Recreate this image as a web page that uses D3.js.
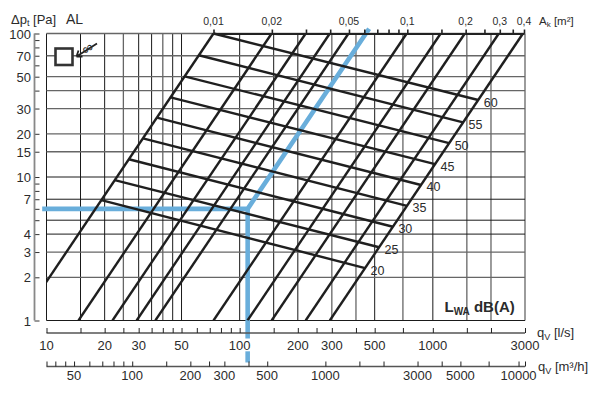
<!DOCTYPE html>
<html>
<head>
<meta charset="utf-8">
<style>
    html, body { margin: 0; padding: 0; background: #fff; }
    svg { display: block; }
    text { font-family: 'Liberation Sans', Arial, sans-serif; fill: #2b2b2b; }
</style>
</head>
<body>
<svg></svg>
<script src="https://cdn.jsdelivr.net/npm/d3@7"></script>
<script>
let width = 600;
let height = 394;

// flow grid (l/s), pressure grid (Pa)
let flowGrid = [10, 15, 20, 25, 30, 35, 40, 45, 50, 100, 150, 200, 300, 400, 500, 700, 1000, 1500, 2000, 3000];
let flowGridSoft = [25, 40, 300, 400, 700, 1500, 2000, 3000];
let pressureGrid = [1, 2, 3, 4, 5, 7, 10, 15, 20, 30, 40, 50, 70, 100];
let pressureGridSoft = [2, 3, 15, 20, 30, 40, 50, 70, 100];

// axes
let flowTicks = [10, 15, 20, 25, 30, 35, 40, 45, 50, 60, 70, 80, 90, 100, 150, 200, 250, 300, 400, 500, 700, 1000, 1500, 2000, 3000];
let flowLabels = [10, 20, 30, 50, 100, 200, 300, 500, 1000, 3000];
let hourTicks = [36, 40, 45, 50, 60, 70, 80, 90, 100, 150, 200, 250, 300, 400, 500, 1000, 1500, 2000, 3000, 4000, 5000, 7000, 10000, 10800];
let hourLabels = [50, 100, 200, 300, 500, 1000, 3000, 5000, 10000];
let pressureTicks = [1, 2, 3, 4, 5, 6, 7, 8, 9, 10, 15, 20, 30, 40, 50, 60, 70, 80, 90, 100];
let pressureLabels = [1, 2, 3, 4, 7, 10, 15, 20, 30, 50, 70, 100];
let areaTicks = [0.01, 0.02, 0.03, 0.04, 0.05, 0.06, 0.07, 0.08, 0.09, 0.1, 0.15, 0.2, 0.25, 0.3, 0.35, 0.4];
let areaLabels = [0.01, 0.02, 0.05, 0.1, 0.2, 0.3, 0.4];

let areaLines = [0.01, 0.02, 0.03, 0.04, 0.05, 0.1, 0.15, 0.2, 0.3, 0.4];
let flowPerArea = 7320;

// sound lines, pressure where each one meets the 0.01 and the 0.4 diagonal
let soundLevels = [20, 25, 30, 35, 40, 45, 50, 55, 60];
let soundLeft = [6.9, 9.5, 13.3, 18.6, 25.9, 35.9, 50.3, 70.5, 100];
let soundRight = [2.32, 3.24, 4.5, 6.3, 8.8, 12.3, 17.2, 24, 34.4];

// worked example, [flow, pressure]
let exampleFlow = 110;
let exampleLine = [[9.5, 6], [110, 6], [468, 108]];
let exampleDrop = [[6, 0.75], [0.61, 0.51]];

let x = d3.scaleLog().domain([10, 3000]).range([46.5, 525]);
let y = d3.scaleLog().domain([1, 100]).range([320.5, 33.5]);
let xHour = d3.scaleLog().domain([36, 10800]).range([46.5, 525]);
let xArea = d3.scaleLog().domain([0.01, 0.4]).range([213.5, 524]);

let flowAt = (area, p) => flowPerArea * area * Math.sqrt(p / 100);
let comma = d => String(d).replace('.', ',');

let svg = d3.select('svg')
    .attr('width', width)
    .attr('height', height);
let container = svg.append('g');

svg.append('defs').append('clipPath')
    .attr('id', 'plot-clip')
    .append('rect')
    .attr('x', x.range()[0])
    .attr('y', y.range()[1] - 1)
    .attr('width', x.range()[1] - x.range()[0])
    .attr('height', y.range()[0] - y.range()[1] + 1);

// grid
container.selectAll('line.grid-v')
    .data(flowGrid)
    .enter()
    .append('line')
    .classed('grid-v', true)
    .attr('x1', d => x(d))
    .attr('x2', d => x(d))
    .attr('y1', y(100))
    .attr('y2', y(1))
    .attr('stroke', d => flowGridSoft.includes(d) ? '#666' : '#1a1a1a')
    .attr('stroke-width', d => flowGridSoft.includes(d) ? 1.3 : 1);

container.selectAll('line.grid-h')
    .data(pressureGrid)
    .enter()
    .append('line')
    .classed('grid-h', true)
    .attr('x1', x(10))
    .attr('x2', x(3000))
    .attr('y1', d => y(d))
    .attr('y2', d => y(d))
    .attr('stroke', d => pressureGridSoft.includes(d) ? '#666' : '#1a1a1a')
    .attr('stroke-width', d => pressureGridSoft.includes(d) ? 1.3 : 1);

// blue example goes under the black lines
let line = d3.line().x(d => x(d[0])).y(d => y(d[1]));
container.append('path')
    .attr('d', line(exampleLine))
    .attr('fill', 'none')
    .attr('stroke', '#69aedb')
    .attr('stroke-width', 4.6);
container.selectAll('line.drop')
    .data(exampleDrop)
    .enter()
    .append('line')
    .classed('drop', true)
    .attr('x1', x(exampleFlow))
    .attr('x2', x(exampleFlow))
    .attr('y1', d => y(d[0]))
    .attr('y2', d => y(d[1]))
    .attr('stroke', '#69aedb')
    .attr('stroke-width', 4.6);

// diagonals
let plot = container.append('g').attr('clip-path', 'url(#plot-clip)');
plot.selectAll('line.area')
    .data(areaLines)
    .enter()
    .append('line')
    .classed('area', true)
    .attr('x1', d => x(flowAt(d, 100)))
    .attr('y1', y(100))
    .attr('x2', d => x(flowAt(d, 1)))
    .attr('y2', y(1))
    .attr('stroke', '#1f1f1f')
    .attr('stroke-width', 2.4);

// sound lines
container.selectAll('line.sound')
    .data(soundLevels)
    .enter()
    .append('line')
    .classed('sound', true)
    .attr('x1', (d, i) => x(flowAt(0.01, soundLeft[i])))
    .attr('y1', (d, i) => y(soundLeft[i]))
    .attr('x2', (d, i) => x(flowAt(0.4, soundRight[i])))
    .attr('y2', (d, i) => y(soundRight[i]))
    .attr('stroke', '#1f1f1f')
    .attr('stroke-width', 2.4);

container.selectAll('text.sound-label')
    .data(soundLevels)
    .enter()
    .append('text')
    .classed('sound-label', true)
    .attr('x', (d, i) => x(flowAt(0.4, soundRight[i])) + 5.5)
    .attr('y', (d, i) => y(soundRight[i]) + 6.5)
    .attr('font-size', 12.5)
    .text(d => d);

// bottom axes
function drawBottom(scale, yPos, ticks, labels, labelGap) {
    let axis = d3.axisTop(scale)
        .tickValues(ticks)
        .tickSize(5)
        .tickFormat('');
    let g = container.append('g')
        .attr('transform', `translate(0, ${yPos})`)
        .call(axis);
    g.select('.domain')
        .attr('stroke', '#555')
        .attr('stroke-width', 1.4)
        .attr('d', `M${x.range()[0]},0H${x.range()[1]}`);
    g.selectAll('.tick line').attr('stroke', '#222').attr('stroke-width', 1);
    container.selectAll(null)
        .data(labels)
        .enter()
        .append('text')
        .attr('x', d => scale(d))
        .attr('y', yPos + labelGap)
        .attr('text-anchor', 'middle')
        .attr('font-size', 13)
        .text(d => d);
}
drawBottom(x, 333, flowTicks, flowLabels, 16.5);
drawBottom(xHour, 366.5, hourTicks, hourLabels, 13.5);

// left axis
let leftAxis = d3.axisLeft(y)
    .tickValues(pressureTicks)
    .tickSize(5)
    .tickFormat('');
let leftG = container.append('g')
    .attr('transform', 'translate(39.5, 0)')
    .call(leftAxis);
leftG.select('.domain').remove();
leftG.selectAll('.tick line').attr('stroke', '#333').attr('stroke-width', 1);
container.append('line')
    .attr('x1', 34.5)
    .attr('x2', 34.5)
    .attr('y1', y(100))
    .attr('y2', y(1))
    .attr('stroke', '#888')
    .attr('stroke-width', 1.8);
container.selectAll('text.p-label')
    .data(pressureLabels)
    .enter()
    .append('text')
    .classed('p-label', true)
    .attr('x', 31)
    .attr('y', d => y(d) + 5)
    .attr('text-anchor', 'end')
    .attr('font-size', 13)
    .text(d => d);

// top axis
let topAxis = d3.axisTop(xArea)
    .tickValues(areaTicks)
    .tickSize(4)
    .tickSizeOuter(0)
    .tickFormat('');
let topG = container.append('g')
    .attr('transform', `translate(0, ${y(100)})`)
    .call(topAxis);
topG.select('.domain').attr('stroke', '#222').attr('stroke-width', 2);
topG.selectAll('.tick line').attr('stroke', '#222').attr('stroke-width', 1.6);
container.selectAll('text.a-label')
    .data(areaLabels)
    .enter()
    .append('text')
    .classed('a-label', true)
    .attr('x', d => xArea(d))
    .attr('y', 24.5)
    .attr('text-anchor', 'middle')
    .attr('font-size', 10.5)
    .text(comma);

// axis titles
function title(xPos, yPos, main, sub, rest, size) {
    let t = container.append('text')
        .attr('x', xPos)
        .attr('y', yPos)
        .attr('font-size', size);
    t.append('tspan').text(main);
    t.append('tspan').attr('dy', 2.5).attr('font-size', size * 0.7).text(sub);
    t.append('tspan').attr('dy', -2.5).text(rest);
    return t;
}
title(11, 23.5, '\u0394p', 't', ' [Pa]', 13);
container.append('text').attr('x', 66).attr('y', 23.5).attr('font-size', 14).text('AL');
title(539, 24.5, 'A', 'k', ' [m\u00b2]', 11.5);
title(537, 337, 'q', 'V', ' [l/s]', 13);
title(538, 371, 'q', 'V', ' [m\u00b3/h]', 13);

let lwa = container.append('text')
    .attr('x', 444.5)
    .attr('y', 312)
    .attr('font-size', 15)
    .attr('font-weight', 'bold');
lwa.append('tspan').text('L');
lwa.append('tspan').attr('dy', 2.5).attr('font-size', 10).text('WA');
lwa.append('tspan').attr('dy', -2.5).text(' dB(A)');

// duct symbol in the corner
container.append('rect')
    .attr('x', 55.5)
    .attr('y', 48.5)
    .attr('width', 17)
    .attr('height', 16.5)
    .attr('fill', '#fff')
    .attr('stroke', '#333')
    .attr('stroke-width', 2.6);
container.append('path')
    .attr('d', 'M97,43.5L76.5,56.5M76.5,56.5l2,-6M76.5,56.5l6,0')
    .attr('fill', 'none')
    .attr('stroke', '#222')
    .attr('stroke-width', 1.8);
container.append('text')
    .attr('x', 88)
    .attr('y', 53)
    .attr('text-anchor', 'middle')
    .attr('font-size', 15)
    .attr('transform', 'rotate(-30 88 49)')
    .text('\u221e');
</script>
</body>
</html>
